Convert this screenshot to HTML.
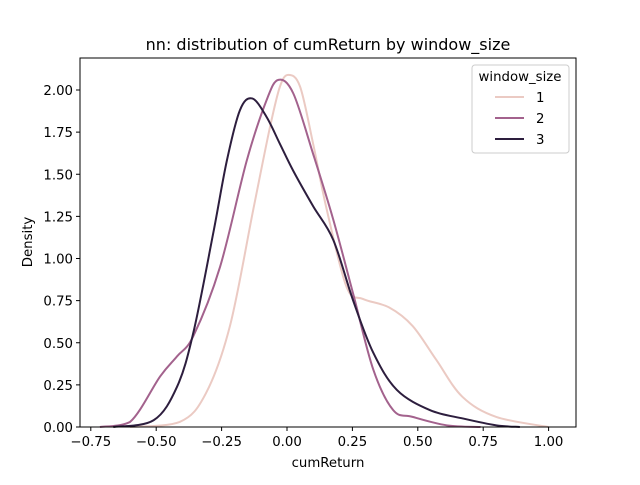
<!DOCTYPE html>
<html><head><meta charset="utf-8"><style>
body{margin:0;background:#fff;}
svg text{font-family:"DejaVu Sans","Liberation Sans",sans-serif;fill:#000;}
</style></head><body>
<svg id="chart" width="640" height="480" viewBox="0 0 640 480">
<rect width="640" height="480" fill="#fff"/>
<text x="328" y="50" font-size="16" text-anchor="middle">nn: distribution of cumReturn by window_size</text>
<g id="marks"></g>
<rect x="80" y="58" width="496" height="369" fill="none" stroke="#000" stroke-width="1"/>
<g id="axes"></g>
<text x="328" y="467" font-size="13.3" text-anchor="middle">cumReturn</text>
<text transform="translate(32,242) rotate(-90)" font-size="13.3" text-anchor="middle">Density</text>
<g>
<rect x="472" y="65" width="97" height="88" rx="3" fill="#fff" stroke="#ccc"/>
<text x="520" y="81" font-size="13.3" text-anchor="middle">window_size</text>
<g><line x1="495" y1="97" x2="524" y2="97" stroke="#ebcac3" stroke-width="2"/><text x="536" y="102" font-size="13.3">1</text></g>
<g><line x1="495" y1="118" x2="524" y2="118" stroke="#a3628d" stroke-width="2"/><text x="536" y="123" font-size="13.3">2</text></g>
<g><line x1="495" y1="139" x2="524" y2="139" stroke="#2d1e3e" stroke-width="2"/><text x="536" y="144" font-size="13.3">3</text></g>
</g>
</svg>
<script>
const xTicks=[-0.75,-0.5,-0.25,0,0.25,0.5,0.75,1.0];
const xTickLabels=["−0.75","−0.50","−0.25","0.00","0.25","0.50","0.75","1.00"];
const yTicks=[0,0.25,0.5,0.75,1,1.25,1.5,1.75,2];
const yTickLabels=["0.00","0.25","0.50","0.75","1.00","1.25","1.50","1.75","2.00"];
const seriesNames=["1","2","3"];
const s1x=[-0.60,-0.41,-0.31,-0.218,-0.129,-0.065,-0.027,0.005,0.05,0.10,0.152,0.228,0.29,0.39,0.48,0.57,0.67,0.80,1.0];
const s1y=[0,0.03,0.2,0.6,1.29,1.78,2.02,2.09,2.02,1.68,1.29,0.83,0.76,0.71,0.6,0.4,0.18,0.06,0];
const s2x=[-0.715,-0.60,-0.485,-0.42,-0.358,-0.256,-0.154,-0.078,-0.033,0.024,0.10,0.177,0.253,0.33,0.406,0.48,0.61,0.74];
const s2y=[0,0.03,0.30,0.42,0.54,0.95,1.58,1.94,2.06,1.98,1.62,1.23,0.79,0.34,0.10,0.06,0.01,0];
const s3x=[-0.664,-0.51,-0.42,-0.358,-0.282,-0.23,-0.18,-0.133,-0.078,-0.027,0.024,0.10,0.177,0.253,0.33,0.42,0.547,0.674,0.80,0.89];
const s3y=[0,0.04,0.24,0.56,1.15,1.58,1.88,1.95,1.84,1.68,1.52,1.31,1.11,0.75,0.44,0.22,0.10,0.05,0.01,0];
const colors=["#ebcac3","#a3628d","#2d1e3e"];
const NS="http://www.w3.org/2000/svg";
const X0=80,X1=576,Y0=427,Y1=58;
function sx(v){return 287+v*261.6;}
function sy(v){return 427-v*168.5;}
const axes=document.getElementById('axes');
xTicks.forEach((t,i)=>{
  const l=document.createElementNS(NS,'line');
  l.setAttribute('x1',sx(t));l.setAttribute('x2',sx(t));l.setAttribute('y1',Y0);l.setAttribute('y2',Y0+4);l.setAttribute('stroke','#000');
  
  
  axes.appendChild(l);
  const tx=document.createElementNS(NS,'text');
  tx.setAttribute('x',sx(t));tx.setAttribute('y',Y0+19);tx.setAttribute('font-size','13.3');tx.setAttribute('text-anchor','middle');
  tx.textContent=xTickLabels[i];
  
  
  axes.appendChild(tx);
});
yTicks.forEach((t,i)=>{
  const l=document.createElementNS(NS,'line');
  l.setAttribute('x1',X0-4);l.setAttribute('x2',X0);l.setAttribute('y1',sy(t));l.setAttribute('y2',sy(t));l.setAttribute('stroke','#000');
  
  
  axes.appendChild(l);
  const tx=document.createElementNS(NS,'text');
  tx.setAttribute('x',X0-7);tx.setAttribute('y',sy(t)+5);tx.setAttribute('font-size','13.3');tx.setAttribute('text-anchor','end');
  tx.textContent=yTickLabels[i];
  
  
  axes.appendChild(tx);
});
function path(xs,ys){
  const p=xs.map((x,i)=>[sx(x),sy(ys[i])]);
  let d='M'+p[0][0]+','+p[0][1];
  for(let i=0;i<p.length-1;i++){
    const a=p[Math.max(0,i-1)],b=p[i],c=p[i+1],e=p[Math.min(p.length-1,i+2)];
    const c1x=b[0]+(c[0]-a[0])/6,c1y=b[1]+(c[1]-a[1])/6;
    const c2x=c[0]-(e[0]-b[0])/6,c2y=c[1]-(e[1]-b[1])/6;
    d+=' C'+c1x+','+Math.min(Y0,c1y)+' '+c2x+','+Math.min(Y0,c2y)+' '+c[0]+','+c[1];
  }
  return d;
}
const marks=document.getElementById('marks');
[[s1x,s1y],[s2x,s2y],[s3x,s3y]].forEach((s,i)=>{
  const pth=document.createElementNS(NS,'path');
  pth.setAttribute('d',path(s[0],s[1]));
  pth.setAttribute('fill','none');pth.setAttribute('stroke',colors[i]);pth.setAttribute('stroke-width','2');
  
  
  marks.appendChild(pth);
});
</script>
</body></html>
